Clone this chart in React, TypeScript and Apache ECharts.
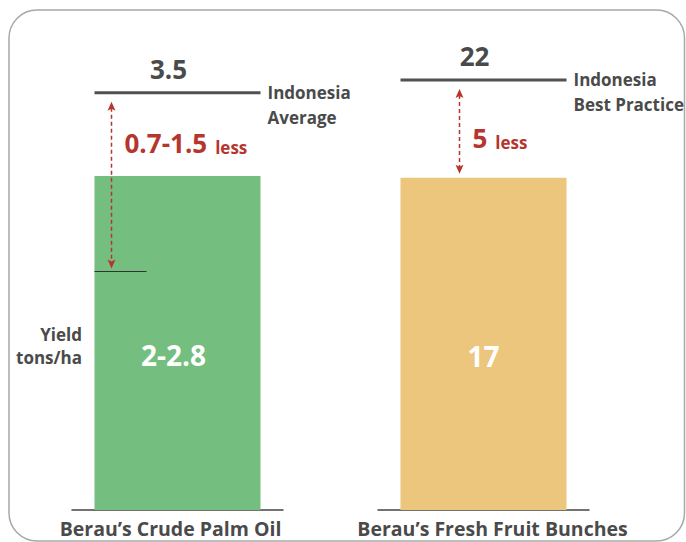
import React, { useEffect, useRef } from "react";
import * as echarts from "echarts";

const categories = ["Berau’s Crude Palm Oil", "Berau’s Fresh Fruit Bunches"];
const yieldLow = [2, 17];
const yieldHigh = [2.8, 17];
const barLabels = ["2-2.8", "17"];
const benchmarkValues = [3.5, 22];
const benchmarkNames = ["Indonesia\nAverage", "Indonesia\nBest Practice"];
const gapValues = ["0.7-1.5", "5"];
const gapUnit = "less";
const axisMax = [4, 24.4];
const axisTitle = "Yield\ntons/ha";

const FONT = "'Open Sans', Lato, sans-serif";
const RED = "#B5352F";
const DARK = "#4A4A4A";
const LINE = "#505050";
const barColors = ["#74BE80", "#EBC67C"];
const BAR_W = 166;
const arrowOffsets = [-66, -24];
const gapLabelOffsets = [-53, -11];
const gridLefts = [72, 378];
const labelPadding = [[0, 14, 0, 0], [0, 0, 0, 18]];
const GRID_W = 211;

function makeRender(i: number) {
  return (params: any, api: any) => {
    const ref = api.value(1);
    const low = api.value(2);
    const high = api.value(3);
    const [cx, yRef] = api.coord([api.value(0), ref]);
    const yLow = api.coord([api.value(0), low])[1];
    const yHigh = api.coord([api.value(0), high])[1];
    const half = BAR_W / 2;
    const ax = cx + arrowOffsets[i];
    const yStart = yRef + 9;
    const yEnd = low !== high ? yLow - 3 : yHigh - 4;
    const children: any[] = [
      {
        type: "line",
        shape: { x1: cx - half, y1: yRef, x2: cx + half, y2: yRef },
        style: { stroke: LINE, lineWidth: 3 },
      },
      {
        type: "text",
        x: cx - 9,
        y: yRef - 24,
        style: {
          text: String(ref),
          fontSize: 26,
          fontWeight: "bold",
          fontFamily: FONT,
          fill: DARK,
          align: "center",
          verticalAlign: "middle",
        },
      },
      {
        type: "text",
        x: cx + half + 7,
        y: yRef - 13,
        style: {
          text: benchmarkNames[i],
          fontSize: 17,
          fontWeight: "bold",
          fontFamily: FONT,
          fill: DARK,
          lineHeight: 25,
          align: "left",
          verticalAlign: "top",
        },
      },
      {
        type: "line",
        shape: { x1: ax, y1: yStart + 6, x2: ax, y2: yEnd - 6 },
        style: { stroke: RED, lineWidth: 1.5, lineDash: [4, 3] },
      },
      {
        type: "polygon",
        shape: { points: [[ax, yStart], [ax - 4, yStart + 9], [ax, yStart + 7], [ax + 4, yStart + 9]] },
        style: { fill: RED },
      },
      {
        type: "polygon",
        shape: { points: [[ax, yEnd], [ax - 4, yEnd - 9], [ax, yEnd - 7], [ax + 4, yEnd - 9]] },
        style: { fill: RED },
      },
      {
        type: "text",
        x: cx + gapLabelOffsets[i],
        y: (yRef + yHigh) / 2 + 6,
        style: {
          text: "{a|" + gapValues[i] + "}{b|" + gapUnit + "}",
          align: "left",
          verticalAlign: "middle",
          rich: {
            a: { fontSize: 26, fontWeight: "bold", fontFamily: FONT, fill: RED, color: RED, verticalAlign: "bottom", lineHeight: 32 },
            b: { fontSize: 17, fontWeight: "bold", fontFamily: FONT, fill: RED, color: RED, verticalAlign: "bottom", lineHeight: 23, padding: [0, 0, 0, 8] },
          },
        },
      },
    ];
    if (low !== high) {
      children.push({
        type: "line",
        shape: { x1: cx - half, y1: yLow, x2: cx - 31, y2: yLow },
        style: { stroke: "#333", lineWidth: 1.2 },
      });
    }
    return { type: "group", children };
  };
}

export default function App() {
  const ref = useRef<HTMLDivElement>(null);
  useEffect(() => {
    if (!ref.current) return;
    const chart = echarts.init(ref.current, null, { renderer: "svg" });
    const grids = [0, 1].map((i) => ({ left: gridLefts[i], width: GRID_W, top: 33, bottom: 32 }));
    const xAxes = [0, 1].map((i) => ({
      type: "category",
      gridIndex: i,
      data: [categories[i]],
      axisLine: { lineStyle: { color: "#444", width: 1.5 } },
      axisTick: { show: false },
      axisLabel: {
        fontSize: 19.5,
        fontWeight: "bold",
        color: DARK,
        fontFamily: FONT,
        margin: 8,
        padding: labelPadding[i],
      },
    }));
    const yAxes = [0, 1].map((i) => ({
      type: "value",
      gridIndex: i,
      min: 0,
      max: axisMax[i],
      show: false,
      splitLine: { show: false },
    }));
    const barSeries = [0, 1].map((i) => ({
      type: "bar",
      xAxisIndex: i,
      yAxisIndex: i,
      data: [yieldHigh[i]],
      barWidth: BAR_W,
      itemStyle: { color: barColors[i] },
      label: {
        show: true,
        position: "inside",
        offset: [i === 0 ? -4 : 0, 12],
        formatter: () => barLabels[i],
        fontSize: 28,
        fontWeight: "bold",
        color: "#fff",
        fontFamily: FONT,
      },
      z: 2,
    }));
    const customSeries = [0, 1].map((i) => ({
      type: "custom",
      xAxisIndex: i,
      yAxisIndex: i,
      data: [[0, benchmarkValues[i], yieldLow[i], yieldHigh[i]]],
      renderItem: makeRender(i),
      clip: false,
      z: 5,
      silent: true,
    }));
    chart.setOption({
      animation: false,
      grid: grids,
      xAxis: xAxes,
      yAxis: yAxes,
      series: [...barSeries, ...customSeries],
      graphic: [
        {
          type: "rect",
          shape: { x: 9, y: 10, width: 675.5, height: 531, r: 28 },
          style: { fill: "none", stroke: "#A8A8A8", lineWidth: 1.5 },
          silent: true,
        },
        {
          type: "text",
          x: 82,
          y: 334,
          style: {
            text: axisTitle.split("\n")[0],
            fontSize: 17,
            fontWeight: "bold",
            fontFamily: FONT,
            fill: DARK,
            align: "right",
            textAlign: "right",
            verticalAlign: "middle",
            textVerticalAlign: "middle",
          },
        },
        {
          type: "text",
          x: 82,
          y: 357,
          style: {
            text: axisTitle.split("\n")[1],
            fontSize: 17,
            fontWeight: "bold",
            fontFamily: FONT,
            fill: DARK,
            align: "right",
            textAlign: "right",
            verticalAlign: "middle",
            textVerticalAlign: "middle",
          },
        },
      ],
    });
    return () => chart.dispose();
  }, []);
  return <div ref={ref} style={{ position: "fixed", left: 0, top: 0, width: 686, height: 542, background: "#fff" }} />;
}
